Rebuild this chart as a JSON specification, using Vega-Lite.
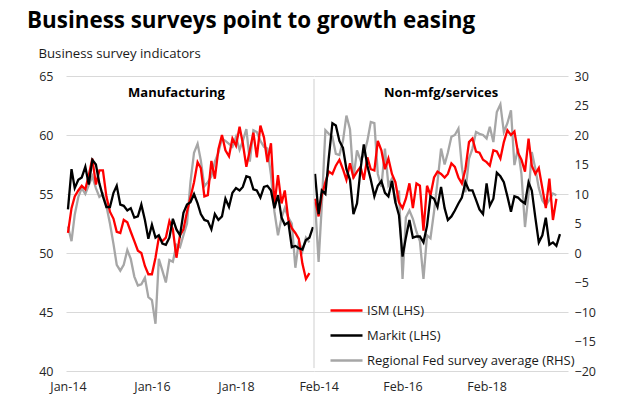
{
"$schema": "https://vega.github.io/schema/vega-lite/v6.json",
"background": "white",
"padding": {"left": 27, "top": 9, "right": 5, "bottom": 5},
"bounds": "flush",
"spacing": 0,
"title": {"text": "Business surveys point to growth easing", "anchor": "start", "frame": "bounds", "dx": -11, "offset": 14, "fontSize": 22.4, "fontWeight": "bold", "font": "Open Sans", "color": "#000000"},
"datasets": {
"mfg": [
{"date":"2014-01-01","ism":51.7,"markit":53.7,"fed":4.5},
{"date":"2014-02-01","ism":53.8,"markit":57.1,"fed":2},
{"date":"2014-03-01","ism":54.8,"markit":55.5,"fed":6.5},
{"date":"2014-04-01","ism":55.3,"markit":56.2,"fed":9.5},
{"date":"2014-05-01","ism":55.7,"markit":56.4,"fed":11},
{"date":"2014-06-01","ism":55.4,"markit":57.3,"fed":10},
{"date":"2014-07-01","ism":56.6,"markit":55.8,"fed":11.5},
{"date":"2014-08-01","ism":58.0,"markit":57.9,"fed":13},
{"date":"2014-09-01","ism":55.8,"markit":57.5,"fed":11},
{"date":"2014-10-01","ism":57.0,"markit":55.9,"fed":9.5},
{"date":"2014-11-01","ism":57.0,"markit":54.8,"fed":10},
{"date":"2014-12-01","ism":54.8,"markit":53.9,"fed":8},
{"date":"2015-01-01","ism":53.5,"markit":53.9,"fed":5},
{"date":"2015-02-01","ism":52.9,"markit":55.1,"fed":1.5},
{"date":"2015-03-01","ism":51.8,"markit":55.7,"fed":-2},
{"date":"2015-04-01","ism":51.7,"markit":54.1,"fed":-3},
{"date":"2015-05-01","ism":52.8,"markit":54.0,"fed":-2},
{"date":"2015-06-01","ism":52.6,"markit":53.6,"fed":0.5},
{"date":"2015-07-01","ism":51.8,"markit":53.8,"fed":-1},
{"date":"2015-08-01","ism":51.0,"markit":53.0,"fed":-4},
{"date":"2015-09-01","ism":50.2,"markit":53.1,"fed":-5.5},
{"date":"2015-10-01","ism":50.0,"markit":54.1,"fed":-5.3},
{"date":"2015-11-01","ism":48.9,"markit":52.8,"fed":-4.2},
{"date":"2015-12-01","ism":48.2,"markit":51.2,"fed":-7.5},
{"date":"2016-01-01","ism":48.2,"markit":52.4,"fed":-8},
{"date":"2016-02-01","ism":49.6,"markit":51.3,"fed":-12},
{"date":"2016-03-01","ism":51.3,"markit":51.5,"fed":-1},
{"date":"2016-04-01","ism":51.0,"markit":50.8,"fed":-3},
{"date":"2016-05-01","ism":51.3,"markit":50.7,"fed":-5},
{"date":"2016-06-01","ism":52.7,"markit":51.3,"fed":-1.2},
{"date":"2016-07-01","ism":52.0,"markit":52.9,"fed":-1.5},
{"date":"2016-08-01","ism":49.6,"markit":52.0,"fed":1.4},
{"date":"2016-09-01","ism":51.5,"markit":51.5,"fed":1},
{"date":"2016-10-01","ism":52.0,"markit":53.4,"fed":3},
{"date":"2016-11-01","ism":53.5,"markit":54.1,"fed":5},
{"date":"2016-12-01","ism":54.7,"markit":54.3,"fed":12},
{"date":"2017-01-01","ism":56.0,"markit":55.0,"fed":17},
{"date":"2017-02-01","ism":57.7,"markit":54.2,"fed":18.5},
{"date":"2017-03-01","ism":57.2,"markit":53.3,"fed":15.7},
{"date":"2017-04-01","ism":54.8,"markit":52.8,"fed":11.3},
{"date":"2017-05-01","ism":54.9,"markit":52.7,"fed":12},
{"date":"2017-06-01","ism":57.8,"markit":52.0,"fed":13},
{"date":"2017-07-01","ism":56.3,"markit":53.3,"fed":15.5},
{"date":"2017-08-01","ism":58.8,"markit":52.8,"fed":17},
{"date":"2017-09-01","ism":60.0,"markit":53.1,"fed":19.4},
{"date":"2017-10-01","ism":58.7,"markit":54.6,"fed":19},
{"date":"2017-11-01","ism":58.2,"markit":53.9,"fed":18.5},
{"date":"2017-12-01","ism":59.7,"markit":55.1,"fed":18},
{"date":"2018-01-01","ism":59.1,"markit":55.5,"fed":19.7},
{"date":"2018-02-01","ism":60.7,"markit":55.3,"fed":17.5},
{"date":"2018-03-01","ism":59.3,"markit":55.6,"fed":19},
{"date":"2018-04-01","ism":57.3,"markit":56.5,"fed":21},
{"date":"2018-05-01","ism":58.7,"markit":56.4,"fed":15.5},
{"date":"2018-06-01","ism":60.2,"markit":55.4,"fed":20.8},
{"date":"2018-07-01","ism":58.1,"markit":55.3,"fed":20.5},
{"date":"2018-08-01","ism":60.8,"markit":54.7,"fed":19},
{"date":"2018-09-01","ism":59.8,"markit":55.6,"fed":18},
{"date":"2018-10-01","ism":57.7,"markit":55.7,"fed":17.7},
{"date":"2018-11-01","ism":59.3,"markit":55.3,"fed":13.2},
{"date":"2018-12-01","ism":54.1,"markit":53.8,"fed":7},
{"date":"2019-01-01","ism":56.6,"markit":54.9,"fed":3},
{"date":"2019-02-01","ism":54.2,"markit":53.0,"fed":6},
{"date":"2019-03-01","ism":55.3,"markit":52.4,"fed":7.6},
{"date":"2019-04-01","ism":52.8,"markit":52.6,"fed":6},
{"date":"2019-05-01","ism":52.1,"markit":50.5,"fed":5},
{"date":"2019-06-01","ism":51.7,"markit":50.6,"fed":-2.5},
{"date":"2019-07-01","ism":51.2,"markit":50.4,"fed":2},
{"date":"2019-08-01","ism":49.1,"markit":50.3,"fed":0.3},
{"date":"2019-09-01","ism":47.8,"markit":51.1,"fed":2.6},
{"date":"2019-10-01","ism":48.3,"markit":51.3,"fed":1.8},
{"date":"2019-11-01","ism":null,"markit":52.2,"fed":null}
],
"svc": [
{"date":"2014-01-01","ism":54.6,"markit":56.7,"fed":8.6},
{"date":"2014-02-01","ism":53.1,"markit":53.3,"fed":-1.5},
{"date":"2014-03-01","ism":54.9,"markit":55.3,"fed":8.1},
{"date":"2014-04-01","ism":56.0,"markit":55.0,"fed":20.8},
{"date":"2014-05-01","ism":56.9,"markit":58.1,"fed":20.2},
{"date":"2014-06-01","ism":56.7,"markit":61.0,"fed":19.7},
{"date":"2014-07-01","ism":57.4,"markit":60.8,"fed":16.8},
{"date":"2014-08-01","ism":57.9,"markit":59.5,"fed":16.6},
{"date":"2014-09-01","ism":57.1,"markit":58.9,"fed":19},
{"date":"2014-10-01","ism":56.2,"markit":57.1,"fed":23.3},
{"date":"2014-11-01","ism":57.6,"markit":56.2,"fed":21},
{"date":"2014-12-01","ism":56.4,"markit":53.3,"fed":12.6},
{"date":"2015-01-01","ism":56.9,"markit":54.2,"fed":17.4},
{"date":"2015-02-01","ism":57.3,"markit":57.1,"fed":15.7},
{"date":"2015-03-01","ism":56.2,"markit":59.2,"fed":16.6},
{"date":"2015-04-01","ism":58.1,"markit":57.4,"fed":19},
{"date":"2015-05-01","ism":57.1,"markit":56.2,"fed":22.2},
{"date":"2015-06-01","ism":57.0,"markit":54.8,"fed":22},
{"date":"2015-07-01","ism":59.5,"markit":55.7,"fed":13.4},
{"date":"2015-08-01","ism":58.7,"markit":56.1,"fed":11.2},
{"date":"2015-09-01","ism":57.1,"markit":55.1,"fed":17.7},
{"date":"2015-10-01","ism":58.0,"markit":54.8,"fed":11.5},
{"date":"2015-11-01","ism":56.7,"markit":56.1,"fed":12.6},
{"date":"2015-12-01","ism":56.0,"markit":54.3,"fed":8.4},
{"date":"2016-01-01","ism":54.3,"markit":53.2,"fed":10.6},
{"date":"2016-02-01","ism":53.8,"markit":49.7,"fed":-4.4},
{"date":"2016-03-01","ism":54.6,"markit":51.3,"fed":6},
{"date":"2016-04-01","ism":55.9,"markit":52.8,"fed":7.2},
{"date":"2016-05-01","ism":53.8,"markit":51.3,"fed":5.8},
{"date":"2016-06-01","ism":55.9,"markit":51.4,"fed":3.6},
{"date":"2016-07-01","ism":55.7,"markit":51.4,"fed":2},
{"date":"2016-08-01","ism":51.9,"markit":50.9,"fed":-4.4},
{"date":"2016-09-01","ism":55.7,"markit":52.3,"fed":3},
{"date":"2016-10-01","ism":54.9,"markit":54.8,"fed":2.5},
{"date":"2016-11-01","ism":56.4,"markit":54.6,"fed":7},
{"date":"2016-12-01","ism":56.9,"markit":53.9,"fed":12},
{"date":"2017-01-01","ism":56.7,"markit":55.6,"fed":17.7},
{"date":"2017-02-01","ism":56.4,"markit":53.8,"fed":15},
{"date":"2017-03-01","ism":56.7,"markit":52.8,"fed":17},
{"date":"2017-04-01","ism":57.6,"markit":53.1,"fed":19.7},
{"date":"2017-05-01","ism":57.3,"markit":53.6,"fed":20},
{"date":"2017-06-01","ism":56.4,"markit":54.2,"fed":21.1},
{"date":"2017-07-01","ism":55.9,"markit":54.7,"fed":14.6},
{"date":"2017-08-01","ism":57.1,"markit":56.0,"fed":10.3},
{"date":"2017-09-01","ism":59.4,"markit":55.3,"fed":16},
{"date":"2017-10-01","ism":59.7,"markit":55.3,"fed":17.7},
{"date":"2017-11-01","ism":58.6,"markit":54.5,"fed":20.5},
{"date":"2017-12-01","ism":58.5,"markit":53.7,"fed":20.2},
{"date":"2018-01-01","ism":57.9,"markit":53.3,"fed":20},
{"date":"2018-02-01","ism":57.7,"markit":55.9,"fed":19.4},
{"date":"2018-03-01","ism":57.4,"markit":54.0,"fed":21.4},
{"date":"2018-04-01","ism":58.7,"markit":54.6,"fed":18.8},
{"date":"2018-05-01","ism":58.6,"markit":56.8,"fed":23.9},
{"date":"2018-06-01","ism":58.0,"markit":56.5,"fed":25.2},
{"date":"2018-07-01","ism":59.4,"markit":56.0,"fed":20.5},
{"date":"2018-08-01","ism":60.4,"markit":54.8,"fed":22},
{"date":"2018-09-01","ism":60.0,"markit":53.5,"fed":24.2},
{"date":"2018-10-01","ism":60.3,"markit":54.8,"fed":14.9},
{"date":"2018-11-01","ism":58.5,"markit":54.7,"fed":17.7},
{"date":"2018-12-01","ism":57.9,"markit":54.4,"fed":13.4},
{"date":"2019-01-01","ism":56.9,"markit":54.2,"fed":4.4},
{"date":"2019-02-01","ism":59.7,"markit":56.0,"fed":10},
{"date":"2019-03-01","ism":57.4,"markit":55.3,"fed":17.1},
{"date":"2019-04-01","ism":56.7,"markit":53.0,"fed":14.3},
{"date":"2019-05-01","ism":57.2,"markit":50.9,"fed":11},
{"date":"2019-06-01","ism":55.5,"markit":51.5,"fed":8.9},
{"date":"2019-07-01","ism":53.8,"markit":53.0,"fed":8.1},
{"date":"2019-08-01","ism":56.3,"markit":50.7,"fed":9},
{"date":"2019-09-01","ism":52.8,"markit":50.9,"fed":10.1},
{"date":"2019-10-01","ism":54.6,"markit":50.6,"fed":9.8},
{"date":"2019-11-01","ism":null,"markit":51.6,"fed":null}
]
},
"hconcat": [
{
"width": 248, "height": 295,
"data": {"name": "mfg"},
"layer": [
{
"mark": {"type": "line", "strokeWidth": 2.3},
"encoding": {
"x": {"field": "date", "type": "temporal", "scale": {"type": "utc", "domain": [{"year": 2013, "month": 12, "date": 15, "utc": true}, {"year": 2019, "month": 11, "date": 10, "utc": true}]}, "axis": {"values": [{"year": 2014, "month": 1, "date": 1, "utc": true}, {"year": 2016, "month": 1, "date": 1, "utc": true}, {"year": 2018, "month": 1, "date": 1, "utc": true}], "labelExpr": "utcFormat(datum.value, '%b-%y')", "labelPadding": 9, "grid": false, "title": null, "labelOverlap": false}},
"y": {"field": "fed", "type": "quantitative", "scale": {"domain": [-20, 30], "nice": false, "zero": false}, "axis": null},
"color": {"datum": "fed", "scale": {"domain": ["ism", "markit", "fed"], "range": ["#ff0000", "#000000", "#a6a6a6"]}, "legend": null}
}
},
{
"layer": [
{
"transform": [{"fold": ["ism", "markit"], "as": ["series", "value"]}],
"mark": {"type": "line", "strokeWidth": 2.3},
"encoding": {
"x": {"field": "date", "type": "temporal", "scale": {"type": "utc", "domain": [{"year": 2013, "month": 12, "date": 15, "utc": true}, {"year": 2019, "month": 11, "date": 10, "utc": true}]}},
"y": {"field": "value", "type": "quantitative", "scale": {"domain": [40, 65], "nice": false, "zero": false}, "axis": {"orient": "left", "values": [40, 45, 50, 55, 60, 65], "labelPadding": 13, "grid": true, "title": "Business survey indicators", "titleAngle": 0, "titleAlign": "left", "titleBaseline": "alphabetic", "titleX": -28, "titleY": -19, "titleFontSize": 13.2, "titleFontWeight": "normal", "titleFont": "Open Sans", "titleColor": "#1a1a1a"}},
"color": {"field": "series", "type": "nominal", "scale": {"domain": ["ism", "markit", "fed"], "range": ["#ff0000", "#000000", "#a6a6a6"]}, "legend": null}
}
},
{
"data": {"values": [{"label": "Manufacturing"}]},
"mark": {"type": "text", "font": "Open Sans", "fontWeight": "bold", "fontSize": 13, "color": "#000000"},
"encoding": {
"x": {"datum": {"year": 2016, "month": 8, "date": 1, "utc": true}, "type": "temporal", "scale": {"type": "utc", "domain": [{"year": 2013, "month": 12, "date": 15, "utc": true}, {"year": 2019, "month": 11, "date": 10, "utc": true}]}},
"y": {"datum": 63.56, "type": "quantitative", "scale": {"domain": [40, 65], "nice": false, "zero": false}},
"text": {"field": "label"}
}
}
]
}
],
"resolve": {"scale": {"y": "independent"}}
},
{
"width": 254, "height": 295,
"data": {"name": "svc"},
"layer": [
{
"mark": {"type": "line", "strokeWidth": 2.3},
"encoding": {
"x": {"field": "date", "type": "temporal", "scale": {"type": "utc", "domain": [{"year": 2013, "month": 12, "date": 23, "utc": true}, {"year": 2020, "month": 1, "date": 10, "utc": true}]}, "axis": {"values": [{"year": 2014, "month": 2, "date": 1, "utc": true}, {"year": 2016, "month": 2, "date": 1, "utc": true}, {"year": 2018, "month": 2, "date": 1, "utc": true}], "labelExpr": "utcFormat(datum.value, '%b-%y')", "labelPadding": 9, "grid": false, "title": null, "labelOverlap": false}},
"y": {"field": "fed", "type": "quantitative", "scale": {"domain": [-20, 30], "nice": false, "zero": false}, "axis": {"orient": "right", "values": [-20, -15, -10, -5, 0, 5, 10, 15, 20, 25, 30], "labelPadding": 6, "title": null, "grid": true, "gridOpacity": {"condition": {"test": "datum.value % 10 === 0", "value": 1}, "value": 0}}},
"color": {"datum": "fed", "scale": {"domain": ["ism", "markit", "fed"], "range": ["#ff0000", "#000000", "#a6a6a6"]}, "legend": {"orient": "none", "legendX": 15, "legendY": 217, "title": null, "symbolType": "stroke", "symbolSize": 1024, "symbolStrokeWidth": 2.5, "labelFontSize": 13, "labelFont": "Open Sans", "labelColor": "#1a1a1a", "labelLimit": 0, "rowPadding": -6, "labelOffset": 3, "labelExpr": "datum.label == 'ism' ? 'ISM (LHS)' : datum.label == 'markit' ? 'Markit (LHS)' : 'Regional Fed survey average (RHS)'"}}
}
},
{
"layer": [
{
"transform": [{"fold": ["ism", "markit"], "as": ["series", "value"]}],
"mark": {"type": "line", "strokeWidth": 2.3},
"encoding": {
"x": {"field": "date", "type": "temporal", "scale": {"type": "utc", "domain": [{"year": 2013, "month": 12, "date": 23, "utc": true}, {"year": 2020, "month": 1, "date": 10, "utc": true}]}},
"y": {"field": "value", "type": "quantitative", "scale": {"domain": [40, 65], "nice": false, "zero": false}, "axis": null},
"color": {"field": "series", "type": "nominal", "scale": {"domain": ["ism", "markit", "fed"], "range": ["#ff0000", "#000000", "#a6a6a6"]}, "legend": {"orient": "none", "legendX": 15, "legendY": 217, "title": null, "symbolType": "stroke", "symbolSize": 1024, "symbolStrokeWidth": 2.5, "labelFontSize": 13, "labelFont": "Open Sans", "labelColor": "#1a1a1a", "labelLimit": 0, "rowPadding": -6, "labelOffset": 3, "labelExpr": "datum.label == 'ism' ? 'ISM (LHS)' : datum.label == 'markit' ? 'Markit (LHS)' : 'Regional Fed survey average (RHS)'"}}
}
},
{
"data": {"values": [{"label": "Non-mfg/services"}]},
"mark": {"type": "text", "font": "Open Sans", "fontWeight": "bold", "fontSize": 13, "color": "#000000"},
"encoding": {
"x": {"datum": {"year": 2017, "month": 1, "date": 1, "utc": true}, "type": "temporal", "scale": {"type": "utc", "domain": [{"year": 2013, "month": 12, "date": 23, "utc": true}, {"year": 2020, "month": 1, "date": 10, "utc": true}]}},
"y": {"datum": 63.56, "type": "quantitative", "scale": {"domain": [40, 65], "nice": false, "zero": false}},
"text": {"field": "label"}
}
},
{
"data": {"values": [{"label": "divider"}]},
"mark": {"type": "rule", "color": "#cfcfcf", "strokeWidth": 1},
"encoding": {
"x": {"datum": {"year": 2013, "month": 12, "date": 23, "utc": true}, "type": "temporal", "scale": {"type": "utc", "domain": [{"year": 2013, "month": 12, "date": 23, "utc": true}, {"year": 2020, "month": 1, "date": 10, "utc": true}]}},
"y": {"datum": 64.75, "type": "quantitative", "scale": {"domain": [40, 65], "nice": false, "zero": false}},
"y2": {"datum": 40.25}
}
}
]
}
],
"resolve": {"scale": {"y": "independent"}}
}
],
"resolve": {"scale": {"x": "independent", "y": "independent", "color": "independent"}, "legend": {"color": "independent"}},
"config": {
"view": {"stroke": null},
"font": "Open Sans",
"axis": {"ticks": false, "domain": false, "labelFont": "Open Sans", "labelColor": "#262626", "labelFontSize": 12.5, "gridColor": "#d9d9d9", "gridWidth": 1}
}
}
